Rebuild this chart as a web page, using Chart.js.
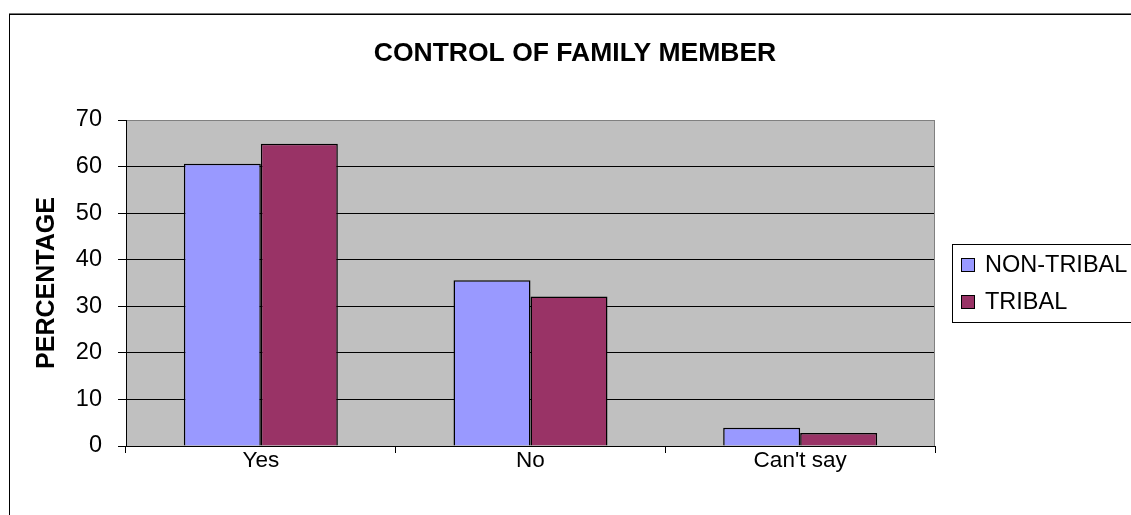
<!DOCTYPE html>
<html>
<head>
<meta charset="utf-8">
<title>Control of family member</title>
<script src="https://cdn.jsdelivr.net/npm/chart.js@4.4.1/dist/chart.umd.min.js"></script>
<style>
  html, body { margin: 0; padding: 0; background: #fff; }
  canvas { display: block; }
</style>
</head>
<body>
<canvas id="family-chart" width="1131" height="515"></canvas>
<script>
const categories = ['Yes', 'No', "Can't say"];
const seriesNames = ['NON-TRIBAL', 'TRIBAL'];
const nonTribal = [60.6, 35.6, 3.9];
const tribal = [64.9, 32.1, 2.8];
const seriesColors = ['#9999FF', '#993366'];
const yTicks = [0, 10, 20, 30, 40, 50, 60, 70];

const FONT = 'Liberation Sans, Arial, sans-serif';

// grey plot background, outer frame and the boxed legend on the right
const frame = {
  id: 'frame',
  beforeDraw(chart) {
    const { ctx, chartArea: a } = chart;
    ctx.save();
    ctx.fillStyle = '#fff';
    ctx.fillRect(0, 0, chart.width, chart.height);
    ctx.fillStyle = '#777';
    ctx.fillRect(9, 13, chart.width - 9, 1);
    ctx.fillStyle = '#000';
    ctx.fillRect(9, 14, chart.width - 9, 1);
    ctx.fillRect(9, 14, 1, chart.height - 14);
    ctx.fillStyle = '#C0C0C0';
    ctx.fillRect(a.left, a.top, a.right - a.left, a.bottom - a.top);
    ctx.restore();
  },
  afterDraw(chart) {
    const { ctx, chartArea: a } = chart;
    ctx.save();
    ctx.strokeStyle = '#808080';
    ctx.lineWidth = 1;
    ctx.beginPath();
    ctx.moveTo(a.right - 0.5, a.top);
    ctx.lineTo(a.right - 0.5, a.bottom);
    ctx.stroke();

    // legend
    const lx = 952.5, ly = 244.5, lb = 322.5;
    ctx.strokeStyle = '#000';
    ctx.strokeRect(lx, ly, chart.width, lb - ly);
    ctx.font = '23.5px ' + FONT;
    ctx.textBaseline = 'middle';
    chart.data.datasets.forEach((ds, i) => {
      const cy = 265 + i * 37;
      ctx.fillStyle = ds.backgroundColor;
      ctx.fillRect(961, cy - 7, 14, 14);
      ctx.strokeRect(961.5, cy - 6.5, 13, 13);
      ctx.fillStyle = '#000';
      ctx.fillText(ds.label, 985, cy + 1);
    });
    ctx.restore();
  }
};

new Chart(document.getElementById('family-chart'), {
  type: 'bar',
  data: {
    labels: categories,
    datasets: [
      {
        label: seriesNames[0],
        data: nonTribal,
        backgroundColor: seriesColors[0],
        borderColor: '#000',
        borderWidth: 1.5
      },
      {
        label: seriesNames[1],
        data: tribal,
        backgroundColor: seriesColors[1],
        borderColor: '#000',
        borderWidth: 1.5
      }
    ]
  },
  options: {
    responsive: false,
    animation: false,
    layout: { padding: { left: 19, top: 0, right: 0, bottom: 0 } },
    datasets: {
      bar: { categoryPercentage: 0.571, barPercentage: 1.0 }
    },
    plugins: {
      legend: { display: false },
      tooltip: { enabled: false },
      title: {
        display: true,
        text: 'CONTROL OF FAMILY MEMBER',
        color: '#000',
        font: { family: FONT, size: 26.5, weight: 'bold' },
        padding: { top: 38, bottom: 50.2 }
      }
    },
    scales: {
      x: {
        offset: true,
        grid: {
          offset: true,
          drawOnChartArea: false,
          drawTicks: true,
          tickLength: 7,
          color: '#000'
        },
        border: { color: '#000', width: 1 },
        ticks: {
          color: '#000',
          font: { family: FONT, size: 22.5 },
          padding: -6
        },
        afterFit(scale) { scale.height = 69; }
      },
      y: {
        min: 0,
        max: 70,
        afterBuildTicks(scale) { scale.ticks = yTicks.map(v => ({ value: v })); },
        grid: {
          color: ctx => (ctx.tick && ctx.tick.value === 70 ? '#808080' : '#000'),
          tickColor: '#000',
          tickLength: 8
        },
        border: { color: '#000', width: 1 },
        ticks: {
          color: '#000',
          font: { family: FONT, size: 23.5 },
          padding: 16
        },
        title: {
          display: true,
          text: 'PERCENTAGE',
          color: '#000',
          font: { family: FONT, size: 25, weight: 'bold' },
          padding: { top: 13, bottom: 0 }
        },
        afterFit(scale) { scale.width = 107; }
      },
      // empty axis that keeps room for the legend box
      side: {
        type: 'linear',
        position: 'right',
        grid: { display: false },
        border: { display: false },
        ticks: { display: false },
        afterFit(scale) { scale.width = 196; }
      }
    }
  },
  plugins: [frame]
});
</script>
</body>
</html>
